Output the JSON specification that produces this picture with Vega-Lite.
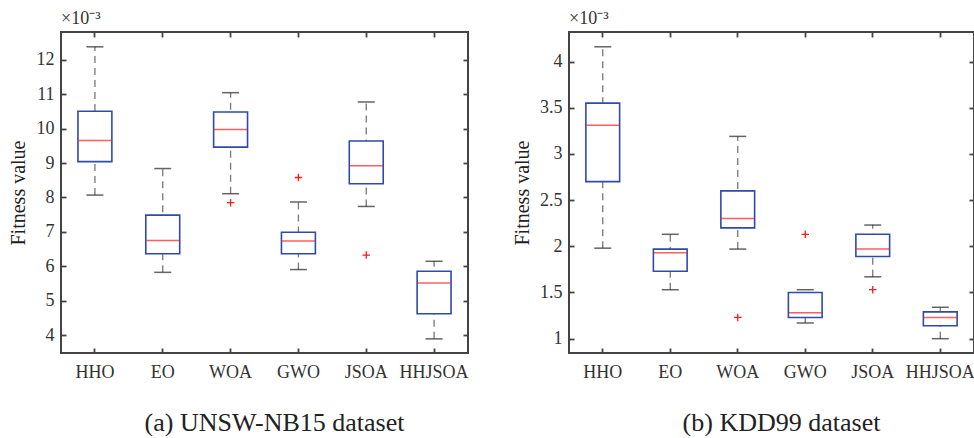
{
  "$schema": "https://vega.github.io/schema/vega-lite/v6.json",
  "padding": {"left": 7, "top": 9, "right": 0, "bottom": 0},
  "background": "white",
  "spacing": 41,
  "datasets": {
    "a": [
      {"alg": "HHO", "lo": 8.07, "q1": 9.04, "med": 9.65, "q3": 10.50, "hi": 12.37},
      {"alg": "EO", "lo": 5.83, "q1": 6.37, "med": 6.75, "q3": 7.49, "hi": 8.84},
      {"alg": "WOA", "lo": 8.11, "q1": 9.46, "med": 9.97, "q3": 10.48, "hi": 11.04},
      {"alg": "GWO", "lo": 5.91, "q1": 6.37, "med": 6.74, "q3": 6.99, "hi": 7.87},
      {"alg": "JSOA", "lo": 7.74, "q1": 8.40, "med": 8.92, "q3": 9.64, "hi": 10.77},
      {"alg": "HHJSOA", "lo": 3.90, "q1": 4.63, "med": 5.52, "q3": 5.86, "hi": 6.15}
    ],
    "ao": [
      {"alg": "WOA", "v": 7.85},
      {"alg": "GWO", "v": 8.58},
      {"alg": "JSOA", "v": 6.33}
    ],
    "b": [
      {"alg": "HHO", "lo": 1.98, "q1": 2.70, "med": 3.31, "q3": 3.55, "hi": 4.16},
      {"alg": "EO", "lo": 1.53, "q1": 1.73, "med": 1.93, "q3": 1.97, "hi": 2.13},
      {"alg": "WOA", "lo": 1.97, "q1": 2.20, "med": 2.30, "q3": 2.60, "hi": 3.19},
      {"alg": "GWO", "lo": 1.17, "q1": 1.23, "med": 1.28, "q3": 1.50, "hi": 1.53},
      {"alg": "JSOA", "lo": 1.67, "q1": 1.89, "med": 1.97, "q3": 2.13, "hi": 2.23},
      {"alg": "HHJSOA", "lo": 1.00, "q1": 1.14, "med": 1.23, "q3": 1.29, "hi": 1.34}
    ],
    "bo": [
      {"alg": "WOA", "v": 1.23},
      {"alg": "GWO", "v": 2.13},
      {"alg": "JSOA", "v": 1.53}
    ]
  },
  "hconcat": [
    {
      "width": 407,
      "height": 321,
      "title": {"text": "×10⁻³", "anchor": "start", "frame": "group", "font": "Liberation Serif", "fontSize": 18, "fontWeight": "normal", "color": "#333", "offset": 3},
      "layer": [
        {
          "data": {"name": "a"},
          "mark": {"type": "rule", "strokeDash": [7, 5], "color": "#777", "strokeWidth": 1.3},
          "encoding": {
            "x": {"field": "alg", "type": "nominal", "sort": ["HHO", "EO", "WOA", "GWO", "JSOA", "HHJSOA"], "scale": {"paddingInner": 0, "paddingOuter": 0},
              "axis": {"orient": "bottom", "title": "(a) UNSW-NB15 dataset", "titleFontSize": 26, "titlePadding": 28, "titleX": 213, "titleAlign": "center", "labelAngle": 0, "tickSize": -5, "labelPadding": 15}},
            "y": {"field": "lo", "type": "quantitative", "scale": {"domain": [3.49, 12.8], "nice": false, "zero": false},
              "axis": {"orient": "left", "title": "Fitness value", "titleFontSize": 20, "titlePadding": 8, "values": [4, 5, 6, 7, 8, 9, 10, 11, 12], "labelExpr": "datum.value", "tickSize": -5, "labelPadding": 12}},
            "y2": {"field": "hi"}
          }
        },
        {
          "data": {"name": "a"},
          "mark": {"type": "tick", "size": 17, "thickness": 1.5, "color": "#222"},
          "encoding": {
            "x": {"field": "alg", "type": "nominal", "sort": ["HHO", "EO", "WOA", "GWO", "JSOA", "HHJSOA"], "axis": null},
            "y": {"field": "lo", "type": "quantitative", "axis": null}
          }
        },
        {
          "data": {"name": "a"},
          "mark": {"type": "tick", "size": 17, "thickness": 1.5, "color": "#222"},
          "encoding": {
            "x": {"field": "alg", "type": "nominal", "sort": ["HHO", "EO", "WOA", "GWO", "JSOA", "HHJSOA"], "axis": null},
            "y": {"field": "hi", "type": "quantitative", "axis": null}
          }
        },
        {
          "data": {"name": "a"},
          "mark": {"type": "bar", "width": {"band": 0.5}, "fill": "white", "stroke": "#2f4aa8", "strokeWidth": 1.6},
          "encoding": {
            "x": {"field": "alg", "type": "nominal", "sort": ["HHO", "EO", "WOA", "GWO", "JSOA", "HHJSOA"], "axis": null},
            "y": {"field": "q1", "type": "quantitative", "axis": null},
            "y2": {"field": "q3"}
          }
        },
        {
          "data": {"name": "a"},
          "mark": {"type": "tick", "size": 33, "thickness": 1.5, "color": "#ff1a1a"},
          "encoding": {
            "x": {"field": "alg", "type": "nominal", "sort": ["HHO", "EO", "WOA", "GWO", "JSOA", "HHJSOA"], "axis": {"orient": "top", "labels": false, "title": null, "tickSize": -5, "domain": false}},
            "y": {"field": "med", "type": "quantitative", "axis": {"orient": "right", "labels": false, "title": null, "values": [4, 5, 6, 7, 8, 9, 10, 11, 12], "tickSize": -5, "domain": false}}
          }
        },
        {
          "data": {"name": "ao"},
          "mark": {"type": "point", "shape": "M-1,0L1,0M0,-1L0,1", "filled": false, "stroke": "#ff1a1a", "strokeWidth": 1.3, "size": 55, "opacity": 1},
          "encoding": {
            "x": {"field": "alg", "type": "nominal", "sort": ["HHO", "EO", "WOA", "GWO", "JSOA", "HHJSOA"], "axis": null},
            "y": {"field": "v", "type": "quantitative", "axis": null}
          }
        }
      ],
      "resolve": {"axis": {"x": "independent", "y": "independent"}}
    },
    {
      "width": 405,
      "height": 321,
      "title": {"text": "×10⁻³", "anchor": "start", "frame": "group", "font": "Liberation Serif", "fontSize": 18, "fontWeight": "normal", "color": "#333", "offset": 3},
      "layer": [
        {
          "data": {"name": "b"},
          "mark": {"type": "rule", "strokeDash": [7, 5], "color": "#777", "strokeWidth": 1.3},
          "encoding": {
            "x": {"field": "alg", "type": "nominal", "sort": ["HHO", "EO", "WOA", "GWO", "JSOA", "HHJSOA"], "scale": {"paddingInner": 0, "paddingOuter": 0},
              "axis": {"orient": "bottom", "title": "(b) KDD99 dataset", "titleFontSize": 26, "titlePadding": 28, "titleX": 212, "titleAlign": "center", "labelAngle": 0, "tickSize": -5, "labelPadding": 15}},
            "y": {"field": "lo", "type": "quantitative", "scale": {"domain": [0.845, 4.32], "nice": false, "zero": false},
              "axis": {"orient": "left", "title": "Fitness value", "titleFontSize": 20, "titlePadding": 7, "values": [1, 1.5, 2, 2.5, 3, 3.5, 4], "labelExpr": "datum.value", "tickSize": -5, "labelPadding": 12}},
            "y2": {"field": "hi"}
          }
        },
        {
          "data": {"name": "b"},
          "mark": {"type": "tick", "size": 17, "thickness": 1.5, "color": "#222"},
          "encoding": {
            "x": {"field": "alg", "type": "nominal", "sort": ["HHO", "EO", "WOA", "GWO", "JSOA", "HHJSOA"], "axis": null},
            "y": {"field": "lo", "type": "quantitative", "axis": null}
          }
        },
        {
          "data": {"name": "b"},
          "mark": {"type": "tick", "size": 17, "thickness": 1.5, "color": "#222"},
          "encoding": {
            "x": {"field": "alg", "type": "nominal", "sort": ["HHO", "EO", "WOA", "GWO", "JSOA", "HHJSOA"], "axis": null},
            "y": {"field": "hi", "type": "quantitative", "axis": null}
          }
        },
        {
          "data": {"name": "b"},
          "mark": {"type": "bar", "width": {"band": 0.5}, "fill": "white", "stroke": "#2f4aa8", "strokeWidth": 1.6},
          "encoding": {
            "x": {"field": "alg", "type": "nominal", "sort": ["HHO", "EO", "WOA", "GWO", "JSOA", "HHJSOA"], "axis": null},
            "y": {"field": "q1", "type": "quantitative", "axis": null},
            "y2": {"field": "q3"}
          }
        },
        {
          "data": {"name": "b"},
          "mark": {"type": "tick", "size": 33, "thickness": 1.5, "color": "#ff1a1a"},
          "encoding": {
            "x": {"field": "alg", "type": "nominal", "sort": ["HHO", "EO", "WOA", "GWO", "JSOA", "HHJSOA"], "axis": {"orient": "top", "labels": false, "title": null, "tickSize": -5, "domain": false}},
            "y": {"field": "med", "type": "quantitative", "axis": {"orient": "right", "labels": false, "title": null, "values": [1, 1.5, 2, 2.5, 3, 3.5, 4], "tickSize": -5, "domain": false}}
          }
        },
        {
          "data": {"name": "bo"},
          "mark": {"type": "point", "shape": "M-1,0L1,0M0,-1L0,1", "filled": false, "stroke": "#ff1a1a", "strokeWidth": 1.3, "size": 55, "opacity": 1},
          "encoding": {
            "x": {"field": "alg", "type": "nominal", "sort": ["HHO", "EO", "WOA", "GWO", "JSOA", "HHJSOA"], "axis": null},
            "y": {"field": "v", "type": "quantitative", "axis": null}
          }
        }
      ],
      "resolve": {"axis": {"x": "independent", "y": "independent"}}
    }
  ],
  "config": {
    "view": {"stroke": "#444", "strokeWidth": 2},
    "axis": {"labelFont": "Liberation Serif", "labelFontSize": 18, "labelColor": "#333", "titleFont": "Liberation Serif", "titleFontWeight": "normal", "titleColor": "#222", "tickColor": "#444", "tickWidth": 1.8, "domain": false, "grid": false}
  }
}
